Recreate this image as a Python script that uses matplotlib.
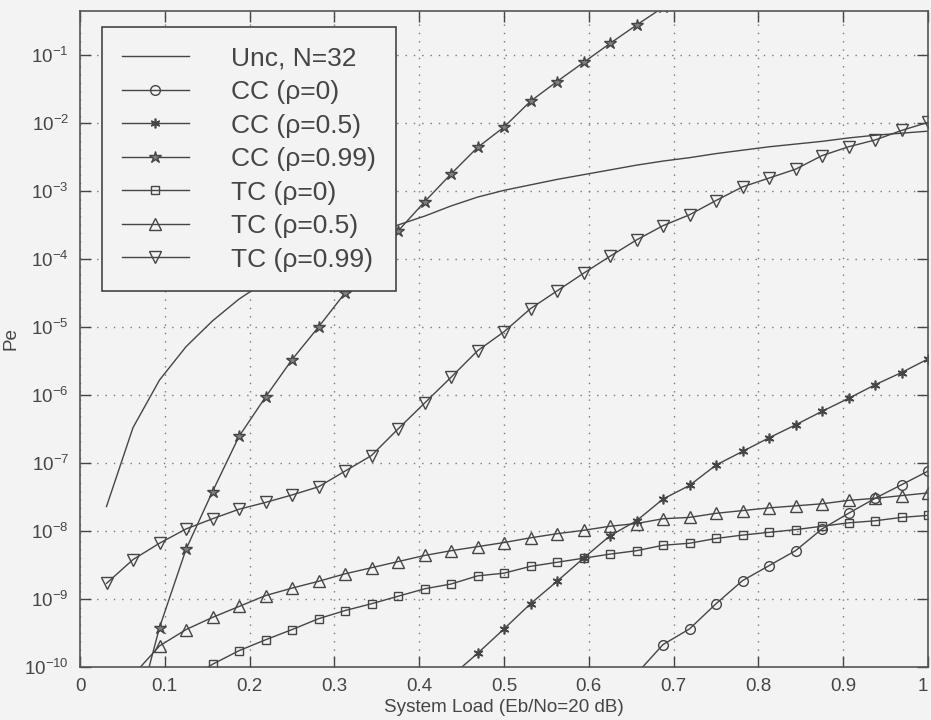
import numpy as np
import matplotlib
matplotlib.use("Agg")
import matplotlib.pyplot as plt
from matplotlib.ticker import FixedLocator, FixedFormatter, NullLocator

plt.rcParams['font.family'] = ['Liberation Sans', 'DejaVu Sans']
plt.rcParams['mathtext.default'] = 'regular'

# system load points (k/32)
load = np.arange(1, 33) / 32

# log10(Pe), series start index into load
unc_log = [-7.64, -6.48, -5.78, -5.29, -4.91, -4.59, -4.33, -4.12, -3.93, -3.77,
           -3.63, -3.50, -3.37, -3.22, -3.09, -2.99, -2.91, -2.83, -2.76, -2.69,
           -2.62, -2.56, -2.51, -2.45, -2.40, -2.35, -2.31, -2.27, -2.22, -2.18,
           -2.15, -2.12]
unc_start = 0
cc0_log = [-10.1, -9.67, -9.44, -9.07, -8.73, -8.51, -8.29, -7.97, -7.74, -7.52,
           -7.32, -7.12]
cc0_start = 20
cc05_log = [-10.14, -9.80, -9.44, -9.07, -8.74, -8.40, -8.07, -7.85, -7.53, -7.33,
            -7.03, -6.83, -6.63, -6.44, -6.24, -6.05, -5.85, -5.67, -5.47]
cc05_start = 13
cc099_log = [-10.9, -9.42, -8.27, -7.42, -6.61, -6.03, -5.48, -5.00, -4.50, -4.03,
             -3.59, -3.16, -2.75, -2.36, -2.06, -1.68, -1.39, -1.11, -0.83, -0.56,
             -0.30]
cc099_start = 1
tc0_log = [-10.2, -9.96, -9.76, -9.60, -9.45, -9.29, -9.17, -9.07, -8.96, -8.85,
           -8.78, -8.66, -8.62, -8.52, -8.46, -8.40, -8.34, -8.29, -8.21, -8.18,
           -8.11, -8.06, -8.02, -7.98, -7.93, -7.88, -7.85, -7.80, -7.77]
tc0_start = 3
tc05_log = [-10.12, -9.69, -9.45, -9.27, -9.11, -8.95, -8.84, -8.74, -8.63, -8.54,
            -8.45, -8.36, -8.29, -8.23, -8.17, -8.10, -8.04, -7.99, -7.93, -7.89,
            -7.82, -7.80, -7.74, -7.70, -7.66, -7.63, -7.60, -7.55, -7.52, -7.48,
            -7.44]
tc05_start = 1
tc099_log = [-8.77, -8.42, -8.18, -7.97, -7.82, -7.68, -7.58, -7.47, -7.35, -7.12,
             -6.89, -6.50, -6.12, -5.74, -5.35, -5.07, -4.73, -4.47, -4.21, -3.96,
             -3.72, -3.51, -3.35, -3.14, -2.94, -2.81, -2.68, -2.48, -2.35, -2.25,
             -2.11, -1.99]
tc099_start = 0

labels = ["Unc, N=32", "CC (\u03c1=0)", "CC (\u03c1=0.5)", "CC (\u03c1=0.99)",
          "TC (\u03c1=0)", "TC (\u03c1=0.5)", "TC (\u03c1=0.99)"]
xtick_vals = [0, 0.1, 0.2, 0.3, 0.4, 0.5, 0.6, 0.7, 0.8, 0.9, 1]
xtick_labels = ["0", "0.1", "0.2", "0.3", "0.4", "0.5", "0.6", "0.7", "0.8", "0.9", "1"]
ytick_exps = [-10, -9, -8, -7, -6, -5, -4, -3, -2, -1]

bg = '#f3f3f3'
ink = '#454545'

fig = plt.figure(figsize=(9.31, 7.2), dpi=100, facecolor=bg)
ax = fig.add_axes([80 / 931, 53 / 720, 848 / 931, 656 / 720], facecolor=bg)

series = [
    (unc_log, unc_start, dict(marker=None)),
    (cc0_log, cc0_start, dict(marker='o', ms=7, mfc='none')),
    (cc05_log, cc05_start, dict(marker=(6, 2, 0), ms=7, mew=1.2)),
    (cc099_log, cc099_start, dict(marker='*', ms=9, mfc='#808080')),
    (tc0_log, tc0_start, dict(marker='s', ms=6, mfc='none')),
    (tc05_log, tc05_start, dict(marker='^', ms=8, mfc='none')),
    (tc099_log, tc099_start, dict(marker='v', ms=8, mfc='none')),
]
for (vals, start, style), lab in zip(series, labels):
    x = load[start:start + len(vals)]
    ax.semilogy(x, 10.0 ** np.array(vals), color=ink, lw=1.0, mec=ink,
                label=lab, **style)

ax.set_xlim(0, 1)
ax.set_ylim(1e-10, 10 ** -0.353)

ax.xaxis.set_major_locator(FixedLocator(xtick_vals))
ax.xaxis.set_major_formatter(FixedFormatter(xtick_labels))
ax.yaxis.set_major_locator(FixedLocator([10.0 ** e for e in ytick_exps]))
ax.yaxis.set_major_formatter(FixedFormatter(["10$^{%d}$" % e for e in ytick_exps]))
ax.yaxis.set_minor_locator(NullLocator())

ax.tick_params(direction='in', length=8, width=1, colors=ink, labelsize=13.5,
               top=True, right=True, pad=8)
ax.get_xticklabels()[-1].set_horizontalalignment('right')
for s in ax.spines.values():
    s.set_color('#555555')
    s.set_linewidth(1.2)
ax.grid(True, which='major', ls=(0, (1, 5)), color='#777777', lw=1.0)

ax.set_xlabel("System Load (Eb/No=20 dB)", fontsize=13.6, color=ink, labelpad=3)
ax.set_ylabel("Pe", fontsize=13.6, color=ink, labelpad=3)

leg = ax.legend(loc='upper left', bbox_to_anchor=(0.0256, 0.976), borderaxespad=0,
                fontsize=19, handlelength=2.55, handletextpad=1.6,
                labelspacing=0.36, borderpad=0.75, fancybox=False, framealpha=1)
leg.get_frame().set_edgecolor('#444444')
leg.get_frame().set_facecolor(bg)
leg.get_frame().set_linewidth(1.2)
for t in leg.get_texts():
    t.set_color(ink)

fig.savefig("out.png", dpi=100, facecolor=bg)
